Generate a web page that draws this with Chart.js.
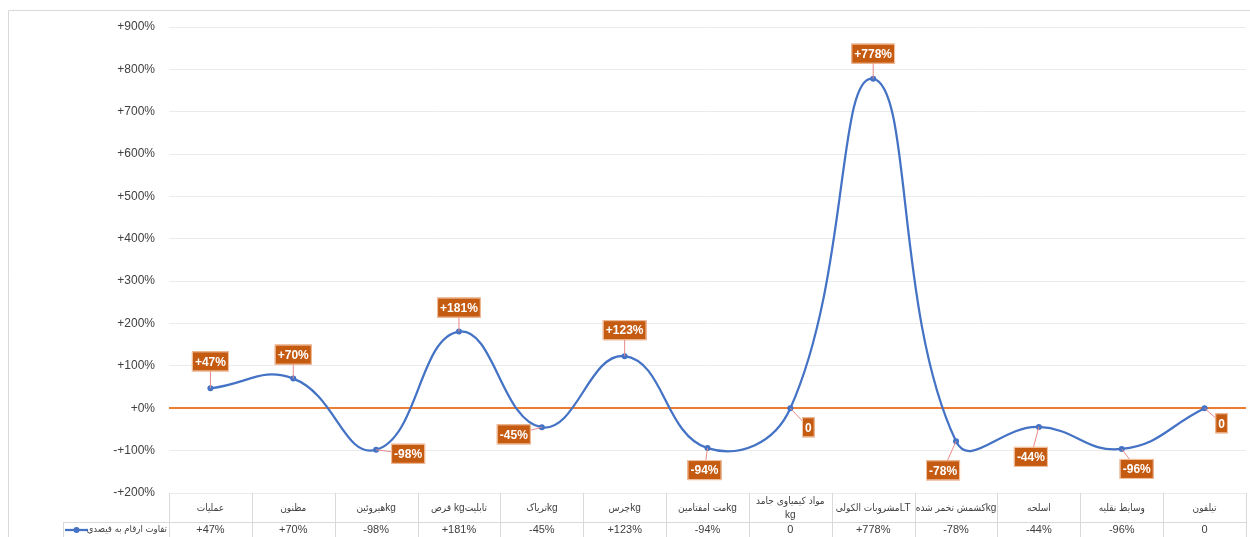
<!DOCTYPE html>
<html>
<head>
<meta charset="utf-8">
<script src="https://cdn.jsdelivr.net/npm/chart.js@4.4.1/dist/chart.umd.min.js"></script>
<style>
  html, body { margin: 0; padding: 0; background: #ffffff; }
  #wrap { width: 1250px; height: 537px; position: relative; }
</style>
</head>
<body>
<div id="wrap"><canvas id="diffChart"></canvas></div>
<script>
// Chart data
const categories = [
    'عملیات', 'مظنون', 'هیروئینkg', 'قرص kgتابلیت', 'تریاکkg', 'چرسkg',
    'مت امفتامینkg', 'مواد کیمیاوی جامد\nkg', 'مشروبات الکولیLT',
    'کشمش تخمر شدهkg', 'اسلحه', 'وسایط نقلیه', 'تیلفون'
];
const diffValues = [47, 70, -98, 181, -45, 123, -94, 0, 778, -78, -44, -96, 0];
const seriesName = 'تفاوت ارقام به فیصدی';
const yMin = -200;
const yMax = 900;
const yStep = 100;

// where each data label box sits relative to its point (dx, dy)
const labelOffsets = [
    [0, -27], [0, -24], [32, 4], [0, -24], [-28, 7], [0, -26], [-3, 22],
    [18, 19], [0, -25], [-13, 29], [-8, 30], [15, 20], [17, 15]
];

const FONT = '"Liberation Sans", "DejaVu Sans", sans-serif';
const AR_FONT = '"DejaVu Sans Condensed", "DejaVu Sans", sans-serif';
const BLUE = '#4472C4';
const ORANGE = '#ED7D31';
const LABEL_BG = '#C55A11';

function formatValue(v) {
    if (v === 0) return '0';
    return (v > 0 ? '+' : '') + v + '%';
}

function formatTick(v) {
    if (v > 0) return '+' + v + '%';
    if (v === 0) return '+0%';
    return '-+' + Math.abs(v) + '%';
}

// draw mixed latin / persian text, runs laid out left to right
function drawMixed(ctx, text, cx, cy) {
    const runs = (text.match(/[A-Za-z]+|[^A-Za-z]+/g) || []).map(r => ({
        text: r.trim(),
        latin: /[A-Za-z]/.test(r),
        gap: /\s$/.test(r) ? 3 : 0
    }));
    runs.forEach(r => {
        ctx.font = r.latin ? '10px ' + FONT : '10px ' + AR_FONT;
        r.width = ctx.measureText(r.text).width;
    });
    const total = runs.reduce((a, r) => a + r.width + r.gap, 0);
    let x = cx - total / 2;
    runs.forEach(r => {
        ctx.font = r.latin ? '10px ' + FONT : '10px ' + AR_FONT;
        ctx.direction = r.latin ? 'ltr' : 'rtl';
        ctx.textAlign = r.latin ? 'left' : 'right';
        ctx.fillText(r.text, r.latin ? x : x + r.width, cy);
        x += r.width + r.gap;
    });
    ctx.direction = 'ltr';
}

// Outer frame of the chart
const framePlugin = {
    id: 'frame',
    beforeDraw(chart) {
        const ctx = chart.ctx;
        ctx.save();
        ctx.strokeStyle = '#d9d9d9';
        ctx.lineWidth = 1;
        ctx.beginPath();
        ctx.moveTo(8.5, chart.height + 2);
        ctx.lineTo(8.5, 10.5);
        ctx.lineTo(chart.width + 2, 10.5);
        ctx.stroke();
        ctx.restore();
    }
};

// Data table under the plot
const dataTablePlugin = {
    id: 'dataTable',
    afterDraw(chart) {
        const ctx = chart.ctx;
        const xScale = chart.scales.x;
        const area = chart.chartArea;
        const band = area.width / categories.length;
        const top = area.bottom;
        const rowY = top + 29;
        const bottom = chart.height + 2;
        const legendLeft = 63;

        ctx.save();
        ctx.strokeStyle = '#d9d9d9';
        ctx.lineWidth = 1;
        ctx.beginPath();
        ctx.moveTo(legendLeft, rowY + 0.5);
        ctx.lineTo(area.right, rowY + 0.5);
        ctx.moveTo(legendLeft + 0.5, rowY);
        ctx.lineTo(legendLeft + 0.5, bottom);
        for (let i = 0; i <= categories.length; i++) {
            const x = Math.round(area.left + band * i) + 0.5;
            ctx.moveTo(x, top);
            ctx.lineTo(x, bottom);
        }
        ctx.stroke();

        ctx.fillStyle = '#404040';
        ctx.textBaseline = 'middle';
        categories.forEach((name, i) => {
            const cx = xScale.getPixelForValue(i);
            const lines = name.split('\n');
            const startY = top + 15 - (lines.length - 1) * 7;
            lines.forEach((line, j) => {
                drawMixed(ctx, line, cx, startY + j * 14);
            });
            ctx.font = '11px ' + FONT;
            ctx.textAlign = 'center';
            ctx.fillText(formatValue(diffValues[i]), cx, rowY + 8);
        });

        // legend key
        const ky = rowY + 8;
        ctx.strokeStyle = BLUE;
        ctx.lineWidth = 2.25;
        ctx.beginPath();
        ctx.moveTo(65, ky);
        ctx.lineTo(88, ky);
        ctx.stroke();
        ctx.fillStyle = BLUE;
        ctx.beginPath();
        ctx.arc(76.5, ky, 3, 0, Math.PI * 2);
        ctx.fill();
        ctx.fillStyle = '#404040';
        ctx.font = '9.5px ' + AR_FONT;
        ctx.direction = 'rtl';
        ctx.textAlign = 'right';
        ctx.fillText(seriesName, 167, ky);
        ctx.restore();
    }
};

// Orange boxed data labels with leader lines
const boxLabelPlugin = {
    id: 'boxLabels',
    afterDatasetsDraw(chart) {
        const ctx = chart.ctx;
        const meta = chart.getDatasetMeta(0);
        ctx.save();
        ctx.font = 'bold 12px ' + FONT;
        ctx.textAlign = 'center';
        ctx.textBaseline = 'middle';
        meta.data.forEach((pt, i) => {
            const text = formatValue(diffValues[i]);
            const off = labelOffsets[i];
            const bx = pt.x + off[0];
            const by = pt.y + off[1];
            const w = ctx.measureText(text).width + 6;
            const h = 20;

            ctx.strokeStyle = '#e8898b';
            ctx.lineWidth = 1;
            ctx.beginPath();
            ctx.moveTo(pt.x, pt.y);
            ctx.lineTo(bx, by);
            ctx.stroke();

            ctx.fillStyle = LABEL_BG;
            ctx.fillRect(bx - w / 2, by - h / 2, w, h);
            ctx.strokeStyle = '#f4c7a8';
            ctx.strokeRect(bx - w / 2 + 0.5, by - h / 2 + 0.5, w - 1, h - 1);
            ctx.fillStyle = '#ffffff';
            ctx.fillText(text, bx, by + 1);
        });
        ctx.restore();
    }
};

const ctx = document.getElementById('diffChart').getContext('2d');
const diffChart = new Chart(ctx, {
    type: 'line',
    data: {
        labels: categories,
        datasets: [{
            label: seriesName,
            data: diffValues,
            borderColor: BLUE,
            backgroundColor: BLUE,
            borderWidth: 2.25,
            pointRadius: 3,
            pointBorderWidth: 0,
            tension: 0.45,
            fill: false,
            clip: false
        }]
    },
    options: {
        responsive: true,
        maintainAspectRatio: false,
        animation: false,
        layout: {
            padding: { top: 27, bottom: 44, left: 0, right: 2 }
        },
        plugins: {
            legend: { display: false },
            tooltip: { enabled: false }
        },
        scales: {
            x: {
                display: false,
                offset: true
            },
            y: {
                min: yMin,
                max: yMax,
                afterFit(scale) { scale.width = 169; },
                border: { display: false },
                grid: {
                    drawTicks: false,
                    color: c => (c.tick && c.tick.value === 0) ? ORANGE : '#ebebeb',
                    lineWidth: c => (c.tick && c.tick.value === 0) ? 2 : 1
                },
                ticks: {
                    stepSize: yStep,
                    padding: 14,
                    color: '#404040',
                    font: { family: FONT, size: 12 },
                    callback: v => formatTick(v)
                }
            }
        }
    },
    plugins: [framePlugin, dataTablePlugin, boxLabelPlugin]
});
</script>
</body>
</html>
